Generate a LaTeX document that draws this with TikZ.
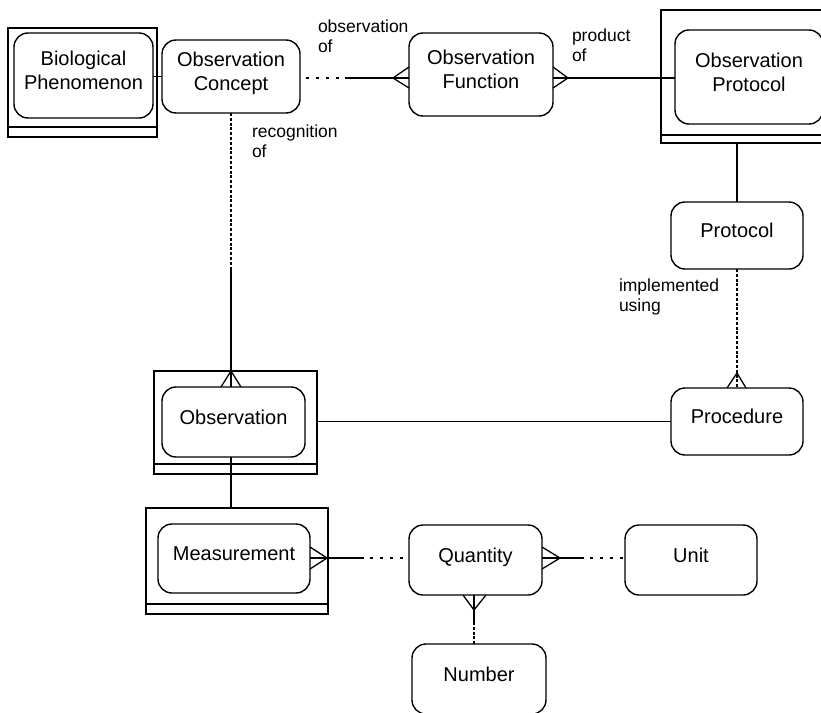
\documentclass[tikz,border=0pt]{standalone}
\usepackage{fontspec}
\setmainfont{Liberation Sans}
\usetikzlibrary{calc}
\newcommand\lowstrut{\rule[-10pt]{0pt}{10pt}}
\begin{document}
\begin{tikzpicture}[x=1pt,y=-1pt,
  every node/.style={inner sep=0pt,outer sep=0pt},
  ent/.style={draw,line width=1.4pt,rounded corners=14pt,align=center,
    font=\fontsize{20}{24}\selectfont},
  outerbox/.style={draw,line width=1.5pt,rectangle},
  lbl/.style={anchor=north west,align=left,font=\fontsize{17.5}{20}\selectfont},
  conn/.style={line width=1.3pt},
  hdot/.style={line width=2.5pt,dash pattern=on 3pt off 7pt,dash phase=4pt},
  vdot/.style={line width=2.4pt,dash pattern=on 3pt off 1.8pt}]
\useasboundingbox (0,0) rectangle (821,712);
\clip (0,0) rectangle (821,712);

% outer boxes
\node[outerbox,minimum width=149pt,minimum height=109pt] (bpout) at (82.5,82.5) {};
\node[outerbox,minimum width=176pt,minimum height=133pt] (opout) at (749,76.5) {};
\node[outerbox,minimum width=163pt,minimum height=103pt] (obsout) at (235.5,422.5) {};
\node[outerbox,minimum width=182pt,minimum height=106pt] (measout) at (237,561) {};
\draw[line width=1.5pt] ([yshift=10pt]bpout.south west) -- ([yshift=10pt]bpout.south east);
\draw[line width=1.5pt] ([yshift=8pt]opout.south west) -- ([yshift=8pt]opout.south east);
\draw[line width=1.5pt] ([yshift=10pt]obsout.south west) -- ([yshift=10pt]obsout.south east);
\draw[line width=1.5pt] ([yshift=10pt]measout.south west) -- ([yshift=10pt]measout.south east);

% entities
\node[ent,minimum width=139pt,minimum height=85pt] (bpin) at (83.5,75.5) {Biological\\Phenomenon\lowstrut};
\node[ent,minimum width=138pt,minimum height=73pt] (oc) at (231,76.5) {Observation\\Concept\lowstrut};
\node[ent,minimum width=144pt,minimum height=83pt] (of) at (481,74.5) {Observation\\Function\lowstrut};
\node[ent,minimum width=148pt,minimum height=94pt] (opin) at (749,77) {Observation\\Protocol\lowstrut};
\node[ent,minimum width=132pt,minimum height=67pt] (protocol) at (737,235.5) {Protocol\lowstrut};
\node[ent,minimum width=132pt,minimum height=67pt] (procedure) at (737,421.5) {Procedure\lowstrut};
\node[ent,minimum width=143pt,minimum height=70pt] (obs) at (233.5,422) {Observation\lowstrut};
\node[ent,minimum width=152pt,minimum height=69pt] (meas) at (234,558.5) {Measurement\lowstrut};
\node[ent,minimum width=133pt,minimum height=70pt] (quantity) at (475.5,560) {Quantity\lowstrut};
\node[ent,minimum width=132pt,minimum height=70pt] (unit) at (691,560) {Unit\lowstrut};
\node[ent,minimum width=134pt,minimum height=70pt] (number) at (479,679) {Number\lowstrut};

% labels
\node[lbl] (l1) at (318,20) {observation\\of};
\node[lbl] (l2) at (572,29) {product\\of};
\node[lbl] (l3) at (252,125) {recognition\\of};
\node[lbl] (l4) at (619,279) {implemented\\using};

% Biological Phenomenon - Observation Concept
\draw[conn] (oc.west -| bpin.east) -- (oc.west);

% Observation Concept - Observation Function
\coordinate (ocof1) at (345,78);
\coordinate (ocoft) at (393,78);
\draw[hdot] (oc.east |- ocof1) -- (ocof1);
\draw[conn] (ocof1) -- (of.west |- ocof1);
\draw[conn] ($(of.west |- ocoft)+(0,-11)$) -- (ocoft) -- ($(of.west |- ocoft)+(0,10)$);

% Observation Function - Observation Protocol
\coordinate (ofopt) at (568,78);
\draw[conn] ($(of.east |- ofopt)+(0,-11)$) -- (ofopt) -- ($(of.east |- ofopt)+(0,10)$);
\draw[conn] (of.east |- ofopt) -- (opin.west |- ofopt);

% Observation Protocol - Protocol
\draw[conn] (opout.south -| protocol.north) -- (protocol.north);

% Protocol - Procedure
\coordinate (ppt) at (737,373);
\draw[vdot] (protocol.south) -- (procedure.north);
\draw[conn] ($(procedure.north)+(-10,0)$) -- (ppt) -- ($(procedure.north)+(9,0)$);

% Procedure - Observation
\draw[conn] (procedure.west) -- (procedure.west -| obsout.east);

% Observation Concept - Observation
\coordinate (ocobs1) at (232,268);
\draw[vdot] (oc.south) -- (oc.south |- ocobs1);
\draw[conn] (oc.south |- ocobs1) -- (oc.south |- obs.north);
\draw[conn] ($(oc.south |- obs.north)+(-10,0)$) -- (oc.south |- obsout.north) -- ($(oc.south |- obs.north)+(10,0)$);

% Observation - Measurement
\draw[conn] (obs.south -| oc.south) -- (measout.north -| oc.south);

% Measurement - Quantity
\coordinate (mqt) at (327,558);
\coordinate (mq1) at (364,558);
\draw[conn] ($(meas.east |- mqt)+(0,-11)$) -- (mqt) -- ($(meas.east |- mqt)+(0,11)$);
\draw[conn] (meas.east |- mqt) -- (mq1);
\draw[hdot] (mq1) -- (quantity.west |- mq1);

% Quantity - Unit
\coordinate (qut) at (560,558);
\coordinate (qu1) at (584,558);
\draw[conn] ($(quantity.east |- qut)+(0,-11)$) -- (qut) -- ($(quantity.east |- qut)+(0,11)$);
\draw[conn] (quantity.east |- qut) -- (qu1);
\draw[hdot] (qu1) -- (unit.west |- qu1);

% Quantity - Number
\coordinate (qnt) at (474,610);
\coordinate (qn1) at (474,622);
\draw[conn] ($(quantity.south -| qnt)+(-11,0)$) -- (qnt) -- ($(quantity.south -| qnt)+(12,0)$);
\draw[conn] (quantity.south -| qnt) -- (qn1);
\draw[vdot] (qn1) -- (number.north -| qn1);
\end{tikzpicture}
\end{document}
